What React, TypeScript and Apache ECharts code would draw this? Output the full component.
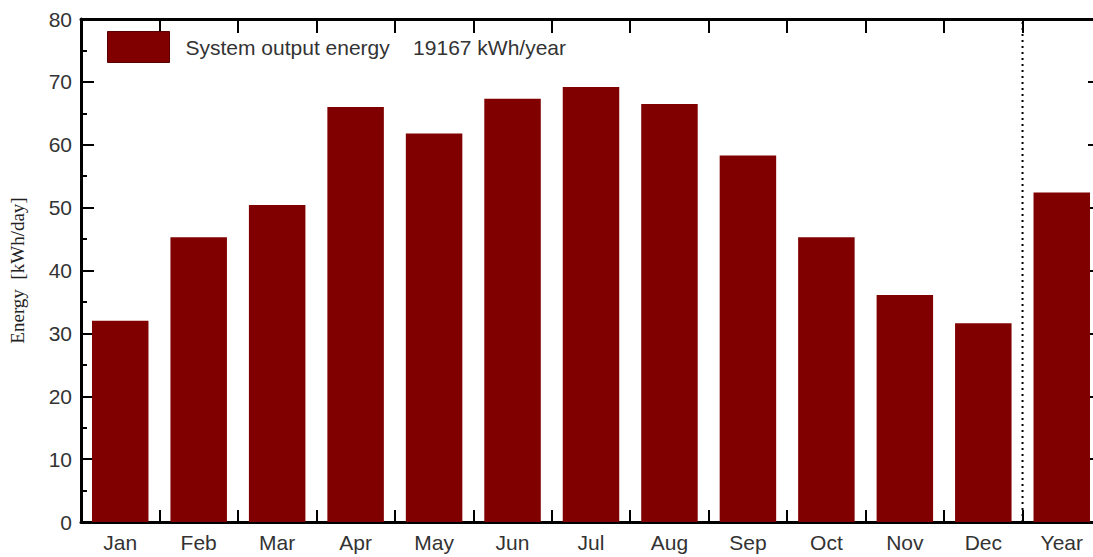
import React, { useEffect, useRef } from "react";
import * as echarts from "echarts";

const categories = ["Jan", "Feb", "Mar", "Apr", "May", "Jun", "Jul", "Aug", "Sep", "Oct", "Nov", "Dec", "Year"];
const energyValues = [32.0, 45.3, 50.4, 66.0, 61.8, 67.3, 69.2, 66.5, 58.3, 45.3, 36.1, 31.6, 52.4];
const seriesName = "System output energy\u00a0\u00a0\u00a0\u00a019167 kWh/year";
const yAxisName = "Energy  [kWh/day]";
const separatorLine = [[12, 0], [12, 80]];

const FONT = "'Liberation Sans', Arial, sans-serif";

export default function App() {
  const ref = useRef<HTMLDivElement>(null);
  useEffect(() => {
    if (!ref.current) return;
    const chart = echarts.init(ref.current, undefined, { renderer: "svg" });
    const axisLine = { show: true, onZero: false, lineStyle: { color: "#000", width: 3 } };
    chart.setOption({
      animation: false,
      backgroundColor: "#fff",
      grid: { left: 81, top: 19, width: 1020, height: 503, containLabel: false },
      legend: {
        left: 107,
        top: 31,
        padding: 0,
        icon: "rect",
        itemWidth: 62,
        itemHeight: 31,
        data: [seriesName],
        textStyle: { fontFamily: FONT, fontSize: 21, color: "#333", padding: [0, 0, 0, 11] },
        itemStyle: { borderColor: "#5a0000", borderWidth: 1 },
      },
      xAxis: [
        {
          type: "category",
          data: categories,
          position: "bottom",
          axisLine,
          axisTick: { show: true, inside: true, length: 12, lineStyle: { color: "#000", width: 2 } },
          axisLabel: { fontFamily: FONT, fontSize: 21, color: "#333", margin: 10 },
          splitLine: { show: false },
        },
        {
          type: "category",
          data: categories,
          position: "top",
          axisLine,
          axisTick: { show: true, inside: true, length: 14, lineStyle: { color: "#000", width: 2 } },
          axisLabel: { show: false },
          splitLine: { show: false },
        },
        {
          type: "value",
          min: 0,
          max: 13,
          show: false,
        },
      ],
      yAxis: [
        {
          type: "value",
          min: 0,
          max: 80,
          interval: 10,
          position: "left",
          name: yAxisName,
          nameLocation: "middle",
          nameRotate: 90,
          nameGap: 54,
          nameTextStyle: { fontFamily: "'Liberation Serif', 'Times New Roman', serif", fontSize: 19, color: "#222" },
          axisLine,
          axisTick: { show: true, inside: true, length: 13, lineStyle: { color: "#000", width: 2 } },
          minorTick: { show: true, splitNumber: 2, length: 6, lineStyle: { color: "#000", width: 2 } },
          axisLabel: { fontFamily: FONT, fontSize: 21, color: "#333", margin: 9 },
          splitLine: { show: false },
        },
        {
          type: "value",
          min: 0,
          max: 80,
          interval: 10,
          position: "right",
          axisLine,
          axisTick: { show: true, inside: true, length: 13, lineStyle: { color: "#000", width: 2 } },
          minorTick: { show: true, splitNumber: 2, length: 6, lineStyle: { color: "#000", width: 2 } },
          axisLabel: { show: false },
          splitLine: { show: false },
        },
      ],
      series: [
        {
          name: seriesName,
          type: "bar",
          xAxisIndex: 0,
          yAxisIndex: 0,
          data: energyValues,
          barCategoryGap: "28%",
          itemStyle: { color: "#800000" },
          z: 1,
        },
        {
          name: "separator",
          type: "line",
          xAxisIndex: 2,
          yAxisIndex: 0,
          data: separatorLine,
          symbol: "none",
          lineStyle: { color: "#000", width: 2, type: [2, 4] },
          z: 3,
          silent: true,
        },
      ],
    });
    return () => chart.dispose();
  }, []);
  return (
    <div style={{ position: "fixed", left: 0, top: 0, width: 1093, height: 557, overflow: "hidden", background: "#fff" }}>
      <div ref={ref} style={{ width: 1120, height: 557 }} />
    </div>
  );
}
